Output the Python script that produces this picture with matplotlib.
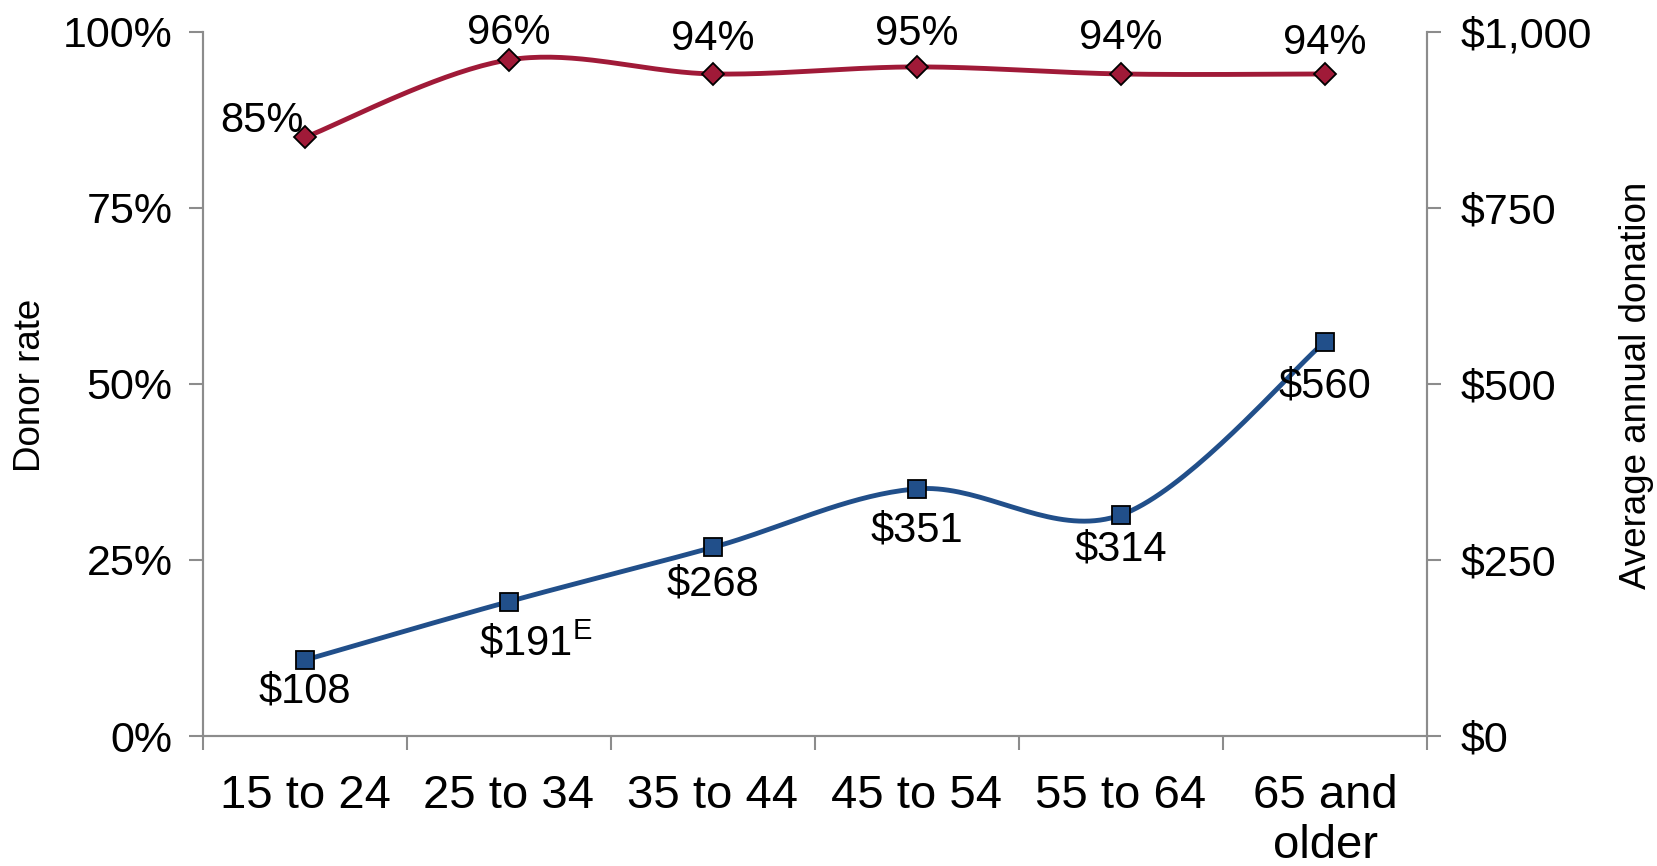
import numpy as np
import matplotlib
matplotlib.use('agg')
import matplotlib.pyplot as plt
from matplotlib.ticker import FuncFormatter, FixedLocator

plt.rcParams['font.family'] = ['Liberation Sans', 'DejaVu Sans']
plt.rcParams['mathtext.fontset'] = 'custom'
plt.rcParams['mathtext.rm'] = 'Liberation Sans'

# data
age_groups = ['15 to 24', '25 to 34', '35 to 44', '45 to 54', '55 to 64', '65 and\nolder']
donor_rate = [85, 96, 94, 95, 94, 94]              # percent
avg_donation = [108, 191, 268, 351, 314, 560]      # dollars
donation_labels = ['\\$108', '\\$191$^\\mathregular{E}$', '\\$268', '\\$351', '\\$314', '\\$560']

red = '#A01A38'
blue = '#214F8A'
grey = '#8C8C8C'


# smooth line like excel (catmull-rom through the points)
def smooth(x, y, n=40):
    x = np.asarray(x, float)
    y = np.asarray(y, float)
    px = np.concatenate([[x[0]], x, [x[-1]]])
    py = np.concatenate([[y[0]], y, [y[-1]]])
    xs, ys = [], []
    t = np.linspace(0, 1, n)
    for i in range(1, len(px) - 2):
        p0, p1, p2, p3 = px[i-1], px[i], px[i+1], px[i+2]
        q0, q1, q2, q3 = py[i-1], py[i], py[i+1], py[i+2]
        c1x, c1y = p1 + (p2 - p0) / 6, q1 + (q2 - q0) / 6
        c2x, c2y = p2 - (p3 - p1) / 6, q2 - (q3 - q1) / 6
        bx = (1-t)**3*p1 + 3*(1-t)**2*t*c1x + 3*(1-t)*t**2*c2x + t**3*p2
        by = (1-t)**3*q1 + 3*(1-t)**2*t*c1y + 3*(1-t)*t**2*c2y + t**3*q2
        xs.append(bx)
        ys.append(by)
    return np.concatenate(xs), np.concatenate(ys)


fig = plt.figure(figsize=(16.57, 8.66), dpi=100)
ax = fig.add_axes([0.1225, 0.150, 0.8612 - 0.1225, 0.9634 - 0.150])
ax2 = ax.twinx()

x = np.arange(len(age_groups))

sx, sy = smooth(x, donor_rate)
ax.plot(sx, sy, color=red, lw=3.5, zorder=3)
ax.plot(x, donor_rate, ls='none', marker='D', ms=11, mfc=red, mec='black', mew=1.3, zorder=4)

sx, sy = smooth(x, avg_donation)
ax2.plot(sx, sy, color=blue, lw=3.5, zorder=3)
ax2.plot(x, avg_donation, ls='none', marker='s', ms=13, mfc=blue, mec='black', mew=1.3, zorder=4)

# data labels
rate_offsets = [(-31, 12), (0, 19), (0, 25), (0, 24), (0, 26), (0, 22)]
for i, v in enumerate(donor_rate):
    ax.annotate(f'{v}%', (x[i], v), xytext=rate_offsets[i], textcoords='offset points',
                ha='center', va='center', fontsize=30)
don_offsets = [(0, -23), (19, -30), (0, -27), (0, -30), (0, -25), (0, -32)]
for i, v in enumerate(avg_donation):
    ax2.annotate(donation_labels[i], (x[i], v), xytext=don_offsets[i], textcoords='offset points',
                 ha='center', va='center', fontsize=30)

ax.set_xlim(-0.5, len(age_groups) - 0.5)
ax.set_ylim(0, 100)
ax2.set_ylim(0, 1000)

ax.set_yticks([0, 25, 50, 75, 100])
ax.yaxis.set_major_formatter(FuncFormatter(lambda v, p: f'{v:.0f}%'))
ax2.set_yticks([0, 250, 500, 750, 1000])
ax2.yaxis.set_major_formatter(FuncFormatter(lambda v, p: f'${v:,.0f}'))

ax.set_xticks(x)
ax.set_xticklabels(age_groups, fontsize=34, linespacing=1.2)
ax.xaxis.set_minor_locator(FixedLocator(np.arange(-0.5, len(age_groups), 1)))
ax.tick_params(axis='x', which='major', length=0, pad=27)
ax.tick_params(axis='x', which='minor', length=10, width=1.5, color=grey, direction='out')

ax.tick_params(axis='y', length=10, width=1.5, color=grey, labelsize=31, pad=12)
ax2.tick_params(axis='y', length=10, width=1.5, color=grey, labelsize=31, pad=14)

for a in (ax, ax2):
    a.spines['top'].set_visible(False)
    for s in ('left', 'right', 'bottom'):
        a.spines[s].set_color(grey)
        a.spines[s].set_linewidth(1.5)

fig.text(30 / 1657, 1 - 385 / 866, 'Donor rate', rotation=90, fontsize=26.5,
         ha='center', va='center')
fig.text(1636 / 1657, 1 - 385 / 866, 'Average annual donation', rotation=90, fontsize=26.5,
         ha='center', va='center')

fig.savefig('out.png', dpi=100)
